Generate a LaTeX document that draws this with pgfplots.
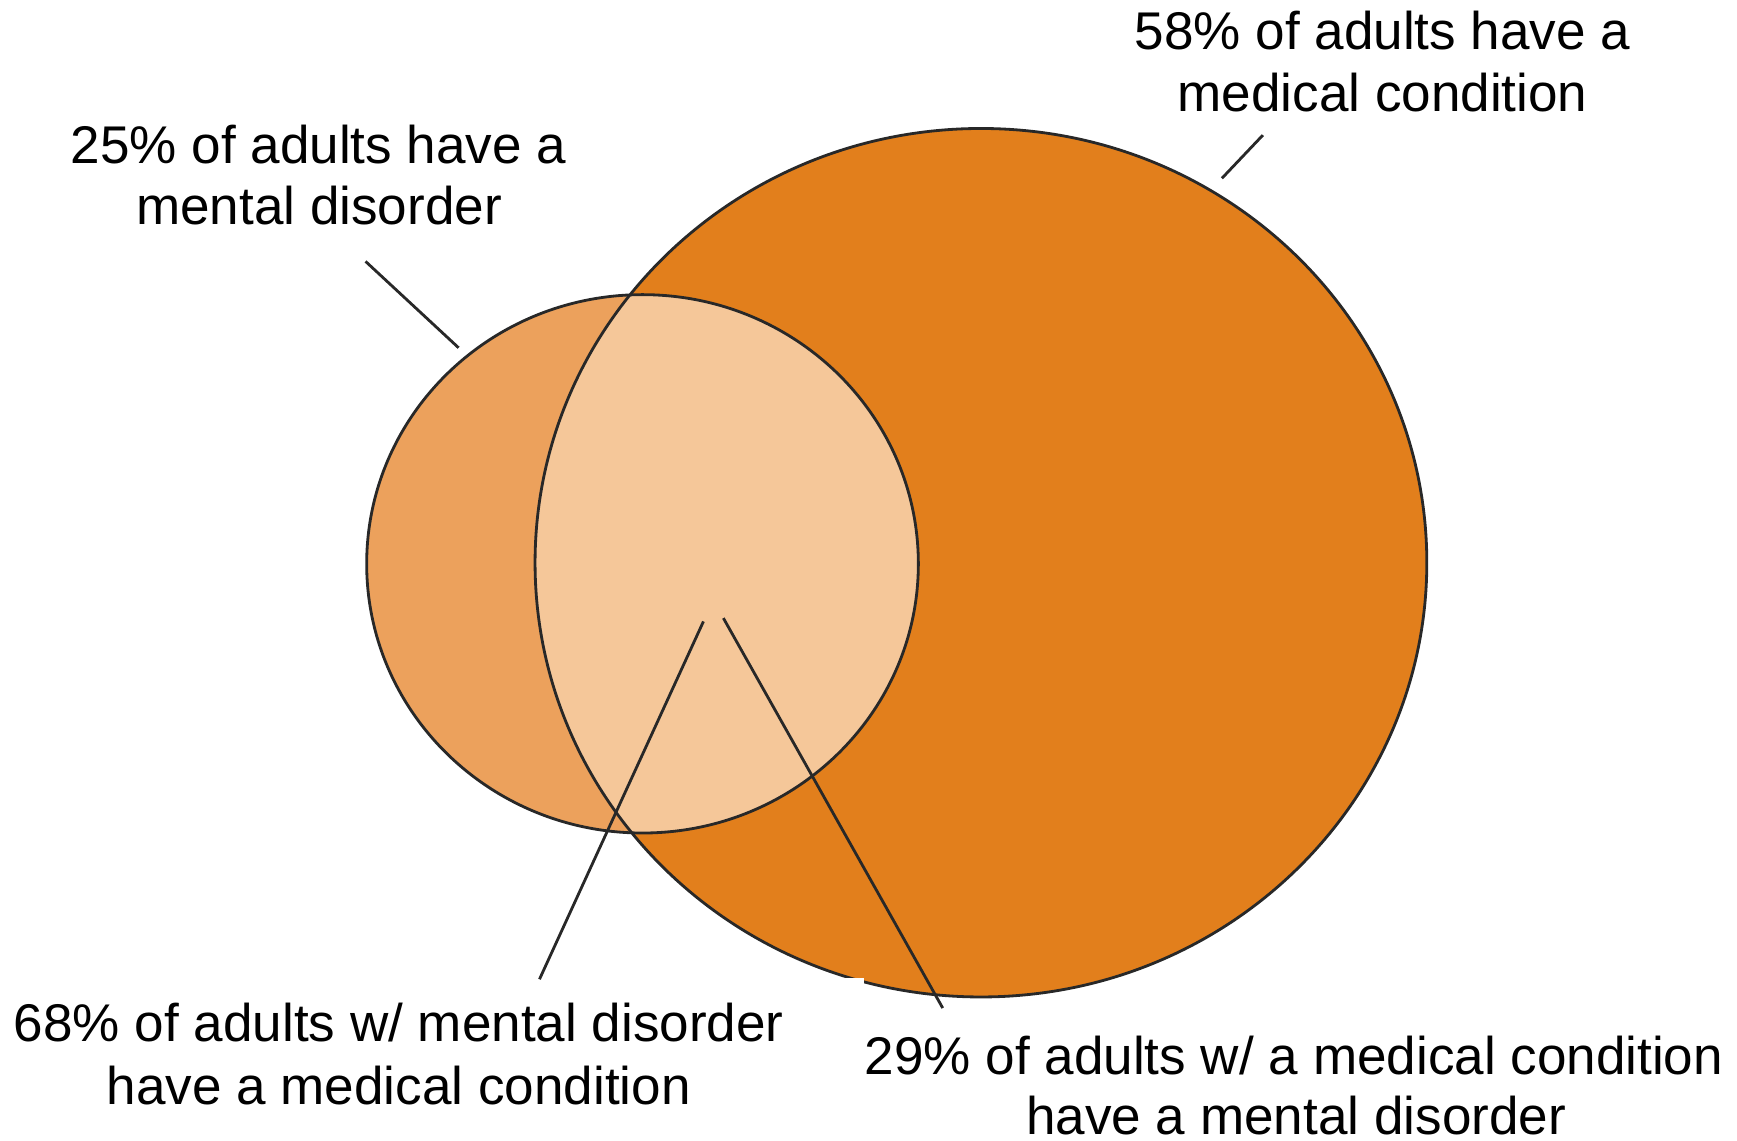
\documentclass[border=0pt]{standalone}
\usepackage{pgfplots}
\pgfplotsset{compat=1.18}
\usepackage{fontspec}
\setmainfont{Liberation Sans}
\definecolor{bigc}{RGB}{226,127,28}
\definecolor{smallc}{RGB}{236,161,92}
\definecolor{interc}{RGB}{245,199,153}
\definecolor{edge}{RGB}{40,40,40}
\begin{document}
\begin{tikzpicture}
\begin{axis}[
  hide axis, scale only axis, width=17.37cm, height=11.41cm,
  xmin=0, xmax=1568, ymin=0, ymax=1030, clip=false,
]
\coordinate (SW) at (axis cs:0,0);
\coordinate (NE) at (axis cs:1568,1030);
% circles (centre x, centre y, radius x, radius y)
\fill[bigc] (axis cs:885.5,522) ellipse [x radius=402.5, y radius=392];
\fill[smallc] (axis cs:580,521) ellipse [x radius=249, y radius=243];
\begin{scope}
  \clip (axis cs:885.5,522) ellipse [x radius=402.5, y radius=392];
  \fill[interc] (axis cs:580,521) ellipse [x radius=249, y radius=243];
\end{scope}
\draw[edge, line width=0.8pt] (axis cs:885.5,522) ellipse [x radius=402.5, y radius=392];
\draw[edge, line width=0.8pt] (axis cs:580,521) ellipse [x radius=249, y radius=243];
\fill[white] (axis cs:0,0) rectangle (axis cs:780,147);
% leader lines
\addplot[edge, line width=0.8pt, no marks] coordinates {(330,794) (414,716)};
\addplot[edge, line width=0.8pt, no marks] coordinates {(1140,908) (1103,869)};
\addplot[edge, line width=0.8pt, no marks] coordinates {(635,469) (487,146)};
\addplot[edge, line width=0.8pt, no marks] coordinates {(653,472) (851,120)};
% labels
\begin{scope}[every node/.style={anchor=base, inner sep=0pt, font=\fontsize{15.1}{17.6}\selectfont}]
\node at (axis cs:287.5,882) {25\% of adults have a};
\node at (axis cs:288,827) {mental disorder};
\node at (axis cs:1248,985) {58\% of adults have a};
\node at (axis cs:1248,929) {medical condition};
\node at (axis cs:360,90) {68\% of adults w/ mental disorder};
\node at (axis cs:360,33) {have a medical condition};
\node at (axis cs:1168,60) {29\% of adults w/ a medical condition};
\node at (axis cs:1170,6) {have a mental disorder};
\end{scope}
\end{axis}
\pgfresetboundingbox
\path[use as bounding box] (SW) rectangle (NE);
\end{tikzpicture}
\end{document}
